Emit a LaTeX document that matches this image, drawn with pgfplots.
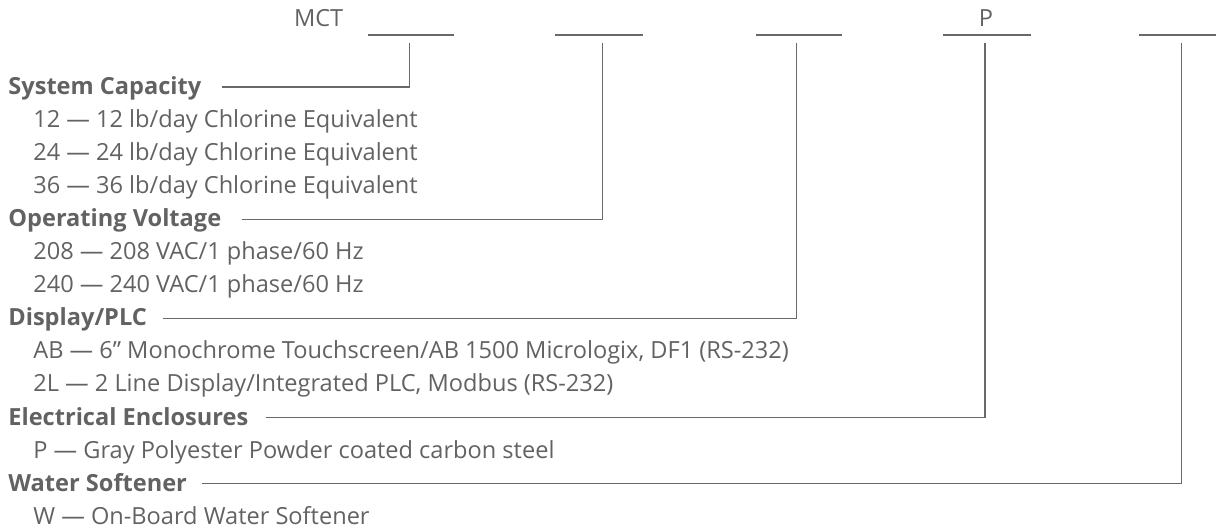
\documentclass[border=0pt]{standalone}
\usepackage{pgfplots}
\pgfplotsset{compat=1.18}
\usepackage{fontspec}
\setmainfont{Open Sans}
\definecolor{txt}{RGB}{98,98,98}
\definecolor{ln}{RGB}{105,105,105}
\begin{document}
\begin{tikzpicture}
\begin{axis}[
  x=0.5bp, y=-0.5bp,
  xmin=0, xmax=1217, ymin=0, ymax=531,
  hide axis, clip=false, scale only axis,
]
\draw[draw=none] (rel axis cs:0,0) rectangle (rel axis cs:1,1);
% blanks
\addplot[ln, line width=1.3bp] coordinates {(368,35) (454,35)};
\addplot[ln, line width=1.3bp] coordinates {(556,35) (644,35)};
\addplot[ln, line width=1.3bp] coordinates {(757,35) (843,35)};
\addplot[ln, line width=1.3bp] coordinates {(944,35) (1032,35)};
\addplot[ln, line width=1.3bp] coordinates {(1140,35) (1217,35)};
% leaders
\addplot[ln, line width=0.6bp] coordinates {(222,87) (410,87) (410,43)};
\addplot[ln, line width=0.6bp] coordinates {(242,219.4) (603,219.4) (603,43)};
\addplot[ln, line width=0.6bp] coordinates {(163,318.7) (797,318.7) (797,43)};
\addplot[ln, line width=0.6bp] coordinates {(266,418) (986,418) (986,43)};
\addplot[ln, line width=0.6bp] coordinates {(202,484.2) (1183,484.2) (1183,43)};
% texts
\begin{scope}[every node/.style={text=txt, font=\fontsize{11.8bp}{14bp}\selectfont, inner sep=0pt}]
\node[anchor=base] at (axis cs:319,27) {MCT};
\node[anchor=base] at (axis cs:987,27) {P};
\node[anchor=base west] at (axis cs:8,94.5) {\bfseries System Capacity};
\node[anchor=base west] at (axis cs:33,127.6) {12 — 12 lb/day Chlorine Equivalent};
\node[anchor=base west] at (axis cs:33,160.7) {24 — 24 lb/day Chlorine Equivalent};
\node[anchor=base west] at (axis cs:33,193.8) {36 — 36 lb/day Chlorine Equivalent};
\node[anchor=base west] at (axis cs:8,226.9) {\bfseries Operating Voltage};
\node[anchor=base west] at (axis cs:33,260) {208 — 208 VAC/1 phase/60 Hz};
\node[anchor=base west] at (axis cs:33,293.1) {240 — 240 VAC/1 phase/60 Hz};
\node[anchor=base west] at (axis cs:8,326.2) {\bfseries Display/PLC};
\node[anchor=base west] at (axis cs:33,359.3) {AB — 6” Monochrome Touchscreen/AB 1500 Micrologix, DF1 (RS-232)};
\node[anchor=base west] at (axis cs:33,392.4) {2L — 2 Line Display/Integrated PLC, Modbus (RS-232)};
\node[anchor=base west] at (axis cs:8,425.5) {\bfseries Electrical Enclosures};
\node[anchor=base west] at (axis cs:33,458.6) {P — Gray Polyester Powder coated carbon steel};
\node[anchor=base west] at (axis cs:8,491.7) {\bfseries Water Softener};
\node[anchor=base west] at (axis cs:33,524.8) {W — On-Board Water Softener};
\end{scope}
\end{axis}
\end{tikzpicture}
\end{document}
